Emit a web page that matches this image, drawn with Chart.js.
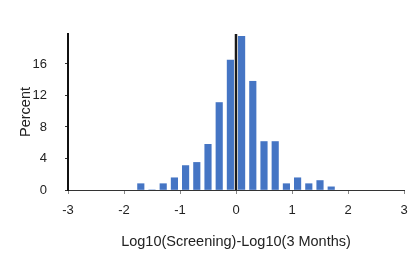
<!DOCTYPE html>
<html>
<head>
<meta charset="utf-8">
<script src="https://cdn.jsdelivr.net/npm/chart.js@4/dist/chart.umd.min.js"></script>
<style>
  html, body { margin: 0; padding: 0; background: #fff; }
  #wrap { width: 408px; height: 253px; }
</style>
</head>
<body>
<div id="wrap"><canvas id="hist"></canvas></div>
<script>
// bin centres (log10 ratio) and share of patients per bin
const binCenters = [-1.7, -1.5, -1.3, -1.1, -0.9, -0.7, -0.5, -0.3, -0.1, 0.1, 0.3, 0.5, 0.7, 0.9, 1.1, 1.3, 1.5, 1.7];
const percents   = [0.8, 0, 0.8, 1.55, 3.1, 3.5, 5.8, 11.1, 16.5, 19.5, 13.8, 6.15, 6.15, 0.8, 1.55, 0.8, 1.2, 0.4];
const yTicks = [0, 4, 8, 12, 16];

const tickFont = { family: 'Liberation Sans, Arial, sans-serif', size: 13 };
const titleFont = { family: 'Liberation Sans, Arial, sans-serif', size: 14.5 };

// black reference line at zero
const zeroLine = {
  id: 'zeroLine',
  afterDatasetsDraw(chart) {
    const x = chart.scales.x.getPixelForValue(0);
    const { top, bottom } = chart.chartArea;
    const ctx = chart.ctx;
    ctx.save();
    ctx.strokeStyle = '#1a1a1a';
    ctx.lineWidth = 2.5;
    ctx.beginPath();
    ctx.moveTo(x, top);
    ctx.lineTo(x, bottom);
    ctx.stroke();
    ctx.restore();
  }
};

new Chart(document.getElementById('hist'), {
  type: 'bar',
  data: {
    datasets: [{
      data: binCenters.map((c, i) => ({ x: c, y: percents[i] })),
      backgroundColor: '#4575c4',
      barThickness: 6.5
    }]
  },
  options: {
    responsive: true,
    maintainAspectRatio: false,
    animation: false,
    layout: { padding: { left: 0, right: 0, top: 34, bottom: 2 } },
    plugins: { legend: { display: false }, tooltip: { enabled: false } },
    scales: {
      x: {
        type: 'linear',
        min: -3, max: 3,
        offset: false,
        afterFit(scale) { scale.paddingRight = 4; },
        ticks: { stepSize: 1, font: tickFont, color: '#222', padding: 9 },
        grid: { drawOnChartArea: false, drawTicks: true, tickLength: 4, color: '#888', offset: false },
        border: { color: '#333', width: 1 },
        title: { display: true, text: 'Log10(Screening)-Log10(3 Months)', font: titleFont, color: '#222', padding: { top: 6, bottom: 0 } }
      },
      y: {
        min: 0, max: 19.8,
        afterBuildTicks(scale) { scale.ticks = yTicks.map(v => ({ value: v })); },
        afterFit(scale) { scale.width = 68; },
        ticks: { font: tickFont, color: '#222', padding: 18 },
        grid: { drawOnChartArea: false, drawTicks: true, tickLength: 3, color: '#333' },
        border: { color: '#111', width: 2 },
        title: { display: true, text: 'Percent', font: titleFont, color: '#222', padding: { top: 17, bottom: 0 } }
      }
    }
  },
  plugins: [zeroLine]
});
</script>
</body>
</html>
